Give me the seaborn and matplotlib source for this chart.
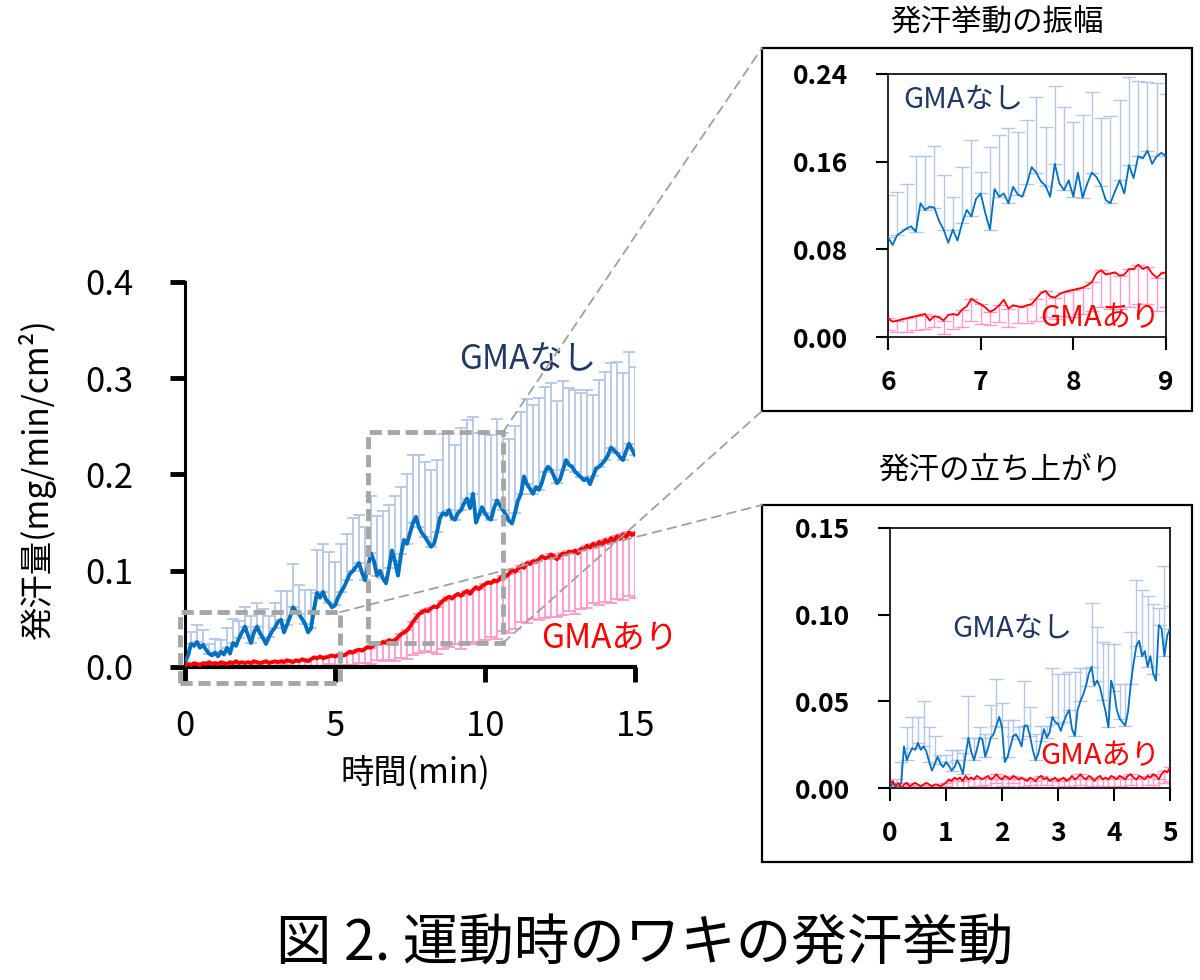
import numpy as np
import seaborn as sns
import matplotlib.pyplot as plt
from matplotlib.patches import Rectangle, ConnectionPatch

# ---- main panel: mean sweat rate, one value every 0.1 min (0-15 min) ----
t_main = np.round(np.arange(0, 15.01, 0.1), 2)

blue_main = [
    0.005, 0.012, 0.024, 0.022, 0.026, 0.020, 0.023, 0.018, 0.014, 0.012, 0.015,
    0.011, 0.016, 0.013, 0.020, 0.014, 0.025, 0.022, 0.030, 0.036, 0.042,
    0.033, 0.025, 0.036, 0.042, 0.035, 0.030, 0.024, 0.031, 0.037, 0.041,
    0.047, 0.049, 0.036, 0.044, 0.052, 0.062, 0.058, 0.055, 0.050, 0.045,
    0.036, 0.040, 0.060, 0.077, 0.072, 0.078, 0.070, 0.067, 0.062, 0.064,
    0.072, 0.078, 0.083, 0.090, 0.097, 0.100, 0.104, 0.108, 0.098, 0.090,
    0.105, 0.118, 0.110, 0.095, 0.100, 0.092, 0.087, 0.103, 0.121, 0.110,
    0.095, 0.117, 0.132, 0.128, 0.139, 0.150, 0.156, 0.145, 0.139, 0.135,
    0.130, 0.125, 0.128, 0.140, 0.155, 0.160, 0.158, 0.163, 0.155, 0.153,
    0.160, 0.163, 0.170, 0.175, 0.165, 0.180, 0.150, 0.158, 0.166, 0.160,
    0.155, 0.153, 0.165, 0.173, 0.168, 0.163, 0.158, 0.152, 0.149, 0.160,
    0.173, 0.180, 0.198, 0.190, 0.185, 0.180, 0.187, 0.184, 0.192, 0.203,
    0.208, 0.205, 0.198, 0.191, 0.195, 0.205, 0.215, 0.210, 0.208, 0.203,
    0.200, 0.197, 0.194, 0.196, 0.190, 0.198, 0.206, 0.208, 0.211, 0.215,
    0.220, 0.228, 0.225, 0.222, 0.218, 0.215, 0.224, 0.232, 0.226, 0.220,
]
red_main = [
    0.002, 0.003, 0.002, 0.004, 0.003, 0.002, 0.004, 0.003, 0.005, 0.003, 0.004,
    0.003, 0.005, 0.004, 0.003, 0.005, 0.004, 0.006, 0.004, 0.005, 0.004,
    0.005, 0.004, 0.006, 0.005, 0.004, 0.005, 0.006, 0.004, 0.005, 0.006,
    0.005, 0.006, 0.005, 0.007, 0.006, 0.005, 0.007, 0.006, 0.008, 0.007,
    0.006, 0.008, 0.010, 0.009, 0.011, 0.009, 0.010, 0.011, 0.012, 0.011,
    0.012, 0.013, 0.012, 0.014, 0.016, 0.015, 0.017, 0.018, 0.017, 0.019,
    0.021, 0.020, 0.023, 0.025, 0.024, 0.026, 0.025, 0.028, 0.027, 0.028,
    0.031, 0.034, 0.036, 0.038, 0.042, 0.047, 0.051, 0.055, 0.057, 0.059,
    0.058, 0.061, 0.063, 0.062, 0.066, 0.069, 0.071, 0.073, 0.071, 0.074,
    0.076, 0.074, 0.077, 0.079, 0.076, 0.080, 0.083, 0.081, 0.084, 0.086,
    0.088, 0.087, 0.090, 0.089, 0.092, 0.095, 0.094, 0.097, 0.101, 0.099,
    0.102, 0.105, 0.103, 0.108, 0.107, 0.110, 0.109, 0.112, 0.115, 0.113,
    0.114, 0.117, 0.115, 0.112, 0.116, 0.118, 0.117, 0.120, 0.119, 0.121,
    0.118, 0.123, 0.122, 0.126, 0.124, 0.128, 0.125, 0.130, 0.127, 0.132,
    0.129, 0.134, 0.131, 0.136, 0.133, 0.138, 0.135, 0.140, 0.137, 0.139,
]
# SD, drawn every 0.2 min (upper side for GMAなし, lower side for GMAあり)
blue_main_err = [
    0.008, 0.012, 0.018, 0.015, 0.010, 0.014, 0.012, 0.020, 0.025, 0.018,
    0.020, 0.028, 0.025, 0.030, 0.022, 0.026, 0.030, 0.035, 0.045, 0.030,
    0.035, 0.040, 0.045, 0.050, 0.052, 0.045, 0.050, 0.048, 0.055, 0.050,
    0.055, 0.060, 0.062, 0.070, 0.065, 0.068, 0.070, 0.072, 0.070, 0.075,
    0.078, 0.080, 0.075, 0.082, 0.080, 0.078, 0.085, 0.082, 0.080, 0.085,
    0.082, 0.088, 0.085, 0.080, 0.085, 0.090, 0.085, 0.088, 0.092, 0.095,
    0.088, 0.090, 0.085, 0.092, 0.080, 0.085, 0.088, 0.092, 0.085, 0.090,
    0.092, 0.088, 0.095, 0.090, 0.095, 0.092,
]
red_main_err = [
    0.002, 0.002, 0.003, 0.002, 0.003, 0.002, 0.003, 0.003, 0.002, 0.003,
    0.003, 0.004, 0.003, 0.004, 0.004, 0.005, 0.004, 0.005, 0.006, 0.005,
    0.006, 0.007, 0.008, 0.009, 0.008, 0.010, 0.011, 0.012, 0.013, 0.014,
    0.015, 0.017, 0.018, 0.020, 0.021, 0.022, 0.025, 0.030, 0.035, 0.040,
    0.042, 0.045, 0.048, 0.050, 0.052, 0.050, 0.055, 0.053, 0.056, 0.055,
    0.058, 0.056, 0.060, 0.058, 0.062, 0.060, 0.058, 0.062, 0.060, 0.063,
    0.062, 0.065, 0.060, 0.064, 0.062, 0.066, 0.063, 0.065, 0.062, 0.066,
    0.064, 0.067, 0.065, 0.068, 0.066, 0.067,
]

# ---- inset 1 (発汗挙動の振幅): 6-9 min, every 0.05 min ----
t_amp = np.round(np.arange(6, 9.001, 0.05), 2)
blue_amp = [
    0.091, 0.084, 0.093, 0.096, 0.099, 0.101, 0.096, 0.122, 0.116, 0.119,
    0.118, 0.106, 0.098, 0.086, 0.098, 0.088, 0.104, 0.116, 0.110, 0.126,
    0.131, 0.113, 0.098, 0.135, 0.128, 0.131, 0.122, 0.137, 0.130, 0.128,
    0.140, 0.155, 0.150, 0.142, 0.138, 0.128, 0.158, 0.140, 0.134, 0.143,
    0.128, 0.150, 0.127, 0.140, 0.150, 0.146, 0.138, 0.125, 0.122, 0.133,
    0.143, 0.131, 0.157, 0.145, 0.165, 0.163, 0.170, 0.158, 0.165, 0.168,
    0.165,
]
red_amp = [
    0.017, 0.014, 0.015, 0.016, 0.017, 0.018, 0.019, 0.020, 0.021, 0.015,
    0.019, 0.018, 0.015, 0.020, 0.021, 0.020, 0.025, 0.028, 0.035, 0.032,
    0.030, 0.027, 0.023, 0.025, 0.029, 0.034, 0.026, 0.029, 0.028, 0.027,
    0.029, 0.030, 0.035, 0.040, 0.042, 0.037, 0.036, 0.039, 0.041, 0.042,
    0.043, 0.044, 0.045, 0.047, 0.050, 0.058, 0.061, 0.057, 0.058, 0.059,
    0.056, 0.057, 0.062, 0.062, 0.066, 0.062, 0.064, 0.058, 0.054, 0.058,
    0.059,
]
blue_amp_err = [
    0.039, 0.039, 0.041, 0.069, 0.049, 0.056, 0.050, 0.030, 0.051, 0.070,
    0.020, 0.075, 0.056, 0.069, 0.057, 0.058, 0.069, 0.054, 0.071, 0.076,
    0.068, 0.076, 0.074, 0.062, 0.080, 0.073, 0.080, 0.069, 0.063, 0.067,
    0.057,
]
red_amp_err = [
    0.011, 0.010, 0.012, 0.013, 0.014, 0.010, 0.012, 0.014, 0.016, 0.020,
    0.018, 0.012, 0.015, 0.017, 0.015, 0.016, 0.020, 0.024, 0.020, 0.022,
    0.025, 0.024, 0.026, 0.034, 0.032, 0.030, 0.035, 0.036, 0.034, 0.030,
    0.032,
]

# ---- inset 2 (発汗の立ち上がり): 0-5 min, every 0.05 min ----
t_rise = np.round(np.arange(0, 5.001, 0.05), 2)
blue_rise = [
    0.000, 0.003, 0.001, 0.000, 0.003, 0.024, 0.016, 0.020, 0.023, 0.022,
    0.026, 0.022, 0.024, 0.021, 0.015, 0.010, 0.014, 0.018, 0.014, 0.012,
    0.015, 0.013, 0.010, 0.012, 0.016, 0.013, 0.008, 0.019, 0.029, 0.021,
    0.016, 0.022, 0.029, 0.028, 0.018, 0.023, 0.029, 0.031, 0.036, 0.041,
    0.035, 0.015, 0.018, 0.024, 0.030, 0.031, 0.028, 0.024, 0.036, 0.036,
    0.030, 0.022, 0.016, 0.020, 0.027, 0.034, 0.029, 0.032, 0.041, 0.038,
    0.037, 0.033, 0.038, 0.042, 0.045, 0.034, 0.030, 0.045, 0.050, 0.054,
    0.059, 0.066, 0.070, 0.059, 0.062, 0.058, 0.051, 0.044, 0.035, 0.062,
    0.056, 0.045, 0.040, 0.038, 0.036, 0.044, 0.060, 0.072, 0.082, 0.085,
    0.076, 0.079, 0.070, 0.076, 0.066, 0.062, 0.094, 0.092, 0.076, 0.088,
    0.092,
]
red_rise = [
    0.003, 0.004, 0.001, 0.003, 0.000, 0.002, 0.003, 0.001, 0.002, 0.003,
    0.002, 0.001, 0.002, 0.003, 0.002, 0.001, 0.002, 0.002, 0.001, 0.002,
    0.003, 0.005, 0.004, 0.006, 0.005, 0.006, 0.004, 0.007, 0.005, 0.006,
    0.005, 0.007, 0.006, 0.005, 0.006, 0.007, 0.005, 0.006, 0.008, 0.006,
    0.005, 0.007, 0.006, 0.005, 0.007, 0.006, 0.005, 0.006, 0.005, 0.004,
    0.006, 0.005, 0.004, 0.006, 0.007, 0.005, 0.006, 0.004, 0.005, 0.006,
    0.004, 0.005, 0.006, 0.004, 0.005, 0.007, 0.005, 0.006, 0.008, 0.006,
    0.005, 0.007, 0.006, 0.004, 0.006, 0.007, 0.005, 0.006, 0.005, 0.007,
    0.006, 0.005, 0.007, 0.006, 0.005, 0.007, 0.008, 0.006, 0.005, 0.007,
    0.006, 0.005, 0.007, 0.006, 0.008, 0.007, 0.005, 0.008, 0.010, 0.009,
    0.012,
]
blue_rise_err = [
    0.002, 0.004, 0.012, 0.019, 0.018, 0.015, 0.026, 0.020, 0.016, 0.005,
    0.004, 0.012, 0.006, 0.012, 0.024, 0.013, 0.006, 0.013, 0.019, 0.027,
    0.014, 0.021, 0.009, 0.007, 0.026, 0.017, 0.015, 0.009, 0.007, 0.028,
    0.029, 0.028, 0.022, 0.037, 0.019, 0.010, 0.037, 0.031, 0.033, 0.048,
    0.027, 0.020, 0.024, 0.030, 0.038, 0.038, 0.041, 0.040, 0.010, 0.052,
    0.013,
]
red_rise_err = [
    0.002, 0.002, 0.001, 0.002, 0.001, 0.002, 0.002, 0.001, 0.001, 0.002,
    0.002, 0.004, 0.005, 0.004, 0.005, 0.004, 0.005, 0.004, 0.005, 0.005,
    0.004, 0.005, 0.004, 0.005, 0.004, 0.004, 0.004, 0.005, 0.004, 0.005,
    0.004, 0.005, 0.004, 0.005, 0.006, 0.005, 0.005, 0.005, 0.004, 0.005,
    0.005, 0.006, 0.005, 0.006, 0.005, 0.006, 0.005, 0.006, 0.007, 0.007,
    0.008,
]

BLUE, BLUE_ERR = '#0070c0', '#b4c7e7'
RED, PINK = '#ff0000', '#ff99cc'
NAVY = '#1f3864'
W, H = 1200, 980

sns.set_style('white', {'axes.edgecolor': 'black', 'text.color': 'black',
                        'xtick.color': 'black', 'ytick.color': 'black',
                        'xtick.bottom': True, 'ytick.left': True})
plt.rcParams['font.family'] = ['Noto Sans CJK JP', 'DejaVu Sans']


def fx(px):
    return px / W


def fy(py):
    return 1 - py / H


def draw(ax, t, blue, red, blue_err, red_err, step, lw, elw, cap):
    t = np.asarray(t)
    blue = np.asarray(blue)
    red = np.asarray(red)
    te = t[::step]
    be = np.asarray(blue_err)
    re = np.asarray(red_err)
    ax.errorbar(te, blue[::step], yerr=[np.zeros_like(be), be], fmt='none',
                ecolor=BLUE_ERR, elinewidth=elw, capsize=cap, capthick=elw, zorder=2)
    ax.errorbar(te, red[::step], yerr=[re, np.zeros_like(re)], fmt='none',
                ecolor=PINK, elinewidth=elw, capsize=cap, capthick=elw, zorder=2)
    sns.lineplot(x=t, y=blue, ax=ax, color=BLUE, linewidth=lw, zorder=3)
    sns.lineplot(x=t, y=red, ax=ax, color=RED, linewidth=lw, zorder=3)


fig = plt.figure(figsize=(12, 9.8), dpi=100)

# main chart
ax = fig.add_axes([fx(185), fy(667), fx(450), 385 / H])
draw(ax, t_main, blue_main, red_main, blue_main_err, red_main_err, 2, 2.8, 1.3, 4)
ax.set_xlim(0, 15)
ax.set_ylim(0, 0.4)
ax.set_xticks([0, 5, 10, 15])
ax.set_yticks([0, 0.1, 0.2, 0.3, 0.4])
ax.set_yticklabels(['0.0', '0.1', '0.2', '0.3', '0.4'])
sns.despine(ax=ax)
ax.spines['left'].set_linewidth(2.2)
ax.spines['bottom'].set_linewidth(3)
ax.tick_params(axis='both', direction='out', length=11, width=3.5, labelsize=25,
               colors='black', bottom=True, left=True)
ax.tick_params(axis='y', pad=26)
ax.tick_params(axis='x', pad=19)
ax.set_xlabel('時間(min)', fontsize=24, va='center', color='black')
ax.xaxis.set_label_coords(0.511, -0.275)
ax.set_ylabel('発汗量(mg/min/cm²)', fontsize=24, va='center', color='black')
ax.yaxis.set_label_coords(-0.329, 0.49)
ax.text(11.43, 0.319, 'GMAなし', color=NAVY, fontsize=24, ha='center', va='center')
ax.text(14.15, 0.030, 'GMAあり', color=RED, fontsize=24, ha='center', va='center')

# zoom boxes on the main chart
box_rise = Rectangle((-0.17, -0.017), 5.34, 0.074, fill=False, ec='#a6a6a6', lw=3.5,
                     ls=(0, (2.5, 1.2)), clip_on=False, zorder=5)
box_amp = Rectangle((6.1, 0.025), 4.5, 0.219, fill=False, ec='#a6a6a6', lw=3.5,
                    ls=(0, (2.5, 1.2)), clip_on=False, zorder=5)
ax.add_patch(box_rise)
ax.add_patch(box_amp)


def inset(px_l, px_t, px_r, px_b):
    a = fig.add_axes([fx(px_l), fy(px_b), fx(px_r - px_l), (px_b - px_t) / H])
    for s in a.spines.values():
        s.set_visible(True)
        s.set_color('black')
        s.set_linewidth(1.2)
    a.tick_params(axis='both', direction='out', length=9, width=1.5, labelsize=19,
                  colors='black', bottom=True, left=True)
    return a


# inset 1
ax1 = inset(888, 74, 1166, 337)
draw(ax1, t_amp, blue_amp, red_amp, blue_amp_err, red_amp_err, 2, 1.3, 1.0, 5)
ax1.set_xlim(6, 9)
ax1.set_ylim(0, 0.24)
ax1.set_xticks([6, 7, 8, 9])
ax1.set_yticks([0, 0.08, 0.16, 0.24])
ax1.set_yticklabels(['0.00', '0.08', '0.16', '0.24'], fontweight='bold')
ax1.set_xticklabels(['6', '7', '8', '9'], fontweight='bold')
ax1.tick_params(axis='y', pad=20)
ax1.tick_params(axis='x', pad=14)
ax1.text(6.81, 0.217, 'GMAなし', color=NAVY, fontsize=21, ha='center', va='center')
ax1.text(8.29, 0.0175, 'GMAあり', color=RED, fontsize=21, ha='center', va='center')

# inset 2
ax2 = inset(890, 528, 1170, 788)
draw(ax2, t_rise, blue_rise, red_rise, blue_rise_err, red_rise_err, 2, 1.3, 1.0, 5)
ax2.set_xlim(0, 5)
ax2.set_ylim(0, 0.15)
ax2.set_xticks([0, 1, 2, 3, 4, 5])
ax2.set_yticks([0, 0.05, 0.10, 0.15])
ax2.set_yticklabels(['0.00', '0.05', '0.10', '0.15'], fontweight='bold')
ax2.set_xticklabels(['0', '1', '2', '3', '4', '5'], fontweight='bold')
ax2.tick_params(axis='y', pad=20)
ax2.tick_params(axis='x', pad=14)
ax2.text(2.18, 0.0917, 'GMAなし', color=NAVY, fontsize=21, ha='center', va='center')
ax2.text(3.75, 0.0185, 'GMAあり', color=RED, fontsize=21, ha='center', va='center')

# frames around the insets and their titles
for top, bottom in [(48, 411), (505, 862)]:
    fig.add_artist(Rectangle((fx(762), fy(bottom)), fx(430), (bottom - top) / H,
                             transform=fig.transFigure, fill=False, ec='black', lw=1.6))
fig.text(fx(997), fy(22), '発汗挙動の振幅', fontsize=22, ha='center', va='center', color='black')
fig.text(fx(1000), fy(470), '発汗の立ち上がり', fontsize=22, ha='center', va='center', color='black')

# dashed leader lines from the zoom boxes to the insets
links = [((10.6, 0.244), (762, 48)), ((10.6, 0.025), (762, 411)),
         ((5.17, 0.057), (762, 505)), ((5.17, -0.017), (762, 862))]
for (dx, dy), (px, py) in links:
    con = ConnectionPatch(xyA=(dx, dy), coordsA='data', axesA=ax,
                          xyB=(fx(px), fy(py)), coordsB='figure fraction',
                          color='#a0a0a0', lw=1.3, ls=(0, (5, 3.5)), zorder=1)
    fig.add_artist(con)

fig.text(fx(645), fy(945), '図 2. 運動時のワキの発汗挙動', fontsize=40, ha='center', va='center',
         color='black')

fig.savefig('out.png', dpi=100)
